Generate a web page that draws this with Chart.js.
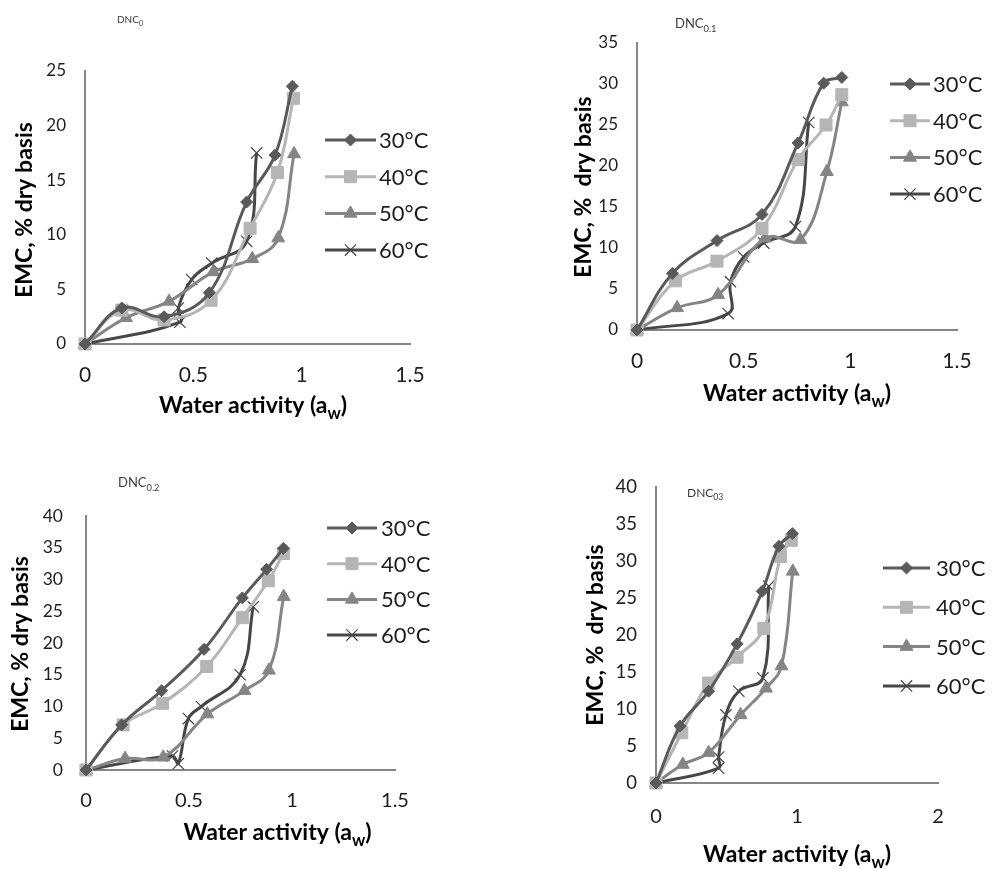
<!DOCTYPE html>
<html>
<head>
<meta charset="utf-8">
<title>EMC sorption isotherms</title>
<script src="https://cdn.jsdelivr.net/npm/chart.js@4.4.1/dist/chart.umd.min.js"></script>
<style>
  html, body { margin: 0; padding: 0; background: #fff; }
  #page { position: relative; width: 993px; height: 869px; overflow: hidden; }
  #page canvas { position: absolute; }
</style>
</head>
<body>
<div id="page">
  <canvas id="c0" width="496" height="430" style="left:0;top:0"></canvas>
  <canvas id="c1" width="497" height="430" style="left:496px;top:0"></canvas>
  <canvas id="c2" width="496" height="439" style="left:0;top:430px"></canvas>
  <canvas id="c3" width="497" height="439" style="left:496px;top:430px"></canvas>
</div>
<script>
// series labels and looks shared by all four plots
const temps = ['30°C', '40°C', '50°C', '60°C'];
const lineColors = ['#5a5a5a', '#b5b5b5', '#858585', '#474747'];
const markerStyles = ['rectRot', 'rect', 'triangle', 'crossRot'];
const markerSizes = [6, 8.5, 7.5, 8];

// [water activity, EMC % db] per temperature
const dnc0_30 = [[0, 0], [0.17, 3.3], [0.365, 2.5], [0.574, 4.7], [0.746, 13.0], [0.877, 17.3], [0.957, 23.6]];
const dnc0_40 = [[0, 0], [0.17, 3.1], [0.365, 2.2], [0.582, 4.0], [0.762, 10.6], [0.888, 15.7], [0.962, 22.5]];
const dnc0_50 = [[0, 0], [0.189, 2.4], [0.388, 3.9], [0.592, 6.6], [0.772, 7.8], [0.892, 9.7], [0.965, 17.4]];
const dnc0_60 = [[0, 0], [0.438, 2.0], [0.431, 3.3], [0.492, 5.9], [0.585, 7.4], [0.746, 9.4], [0.792, 17.5]];

const dnc01_30 = [[0, 0], [0.166, 6.9], [0.375, 10.9], [0.586, 14.1], [0.755, 22.8], [0.875, 30.1], [0.96, 30.8]];
const dnc01_40 = [[0, 0], [0.18, 6.0], [0.375, 8.4], [0.586, 12.4], [0.755, 20.8], [0.886, 25.0], [0.96, 28.7]];
const dnc01_50 = [[0, 0], [0.188, 2.7], [0.38, 4.3], [0.6, 11.2], [0.766, 11.0], [0.89, 19.3], [0.96, 27.8]];
const dnc01_60 = [[0, 0], [0.427, 2.0], [0.438, 5.9], [0.5, 8.9], [0.594, 10.6], [0.742, 12.6], [0.805, 25.3]];

const dnc02_30 = [[0, 0], [0.173, 7.1], [0.367, 12.5], [0.573, 19.0], [0.759, 27.1], [0.877, 31.6], [0.958, 34.9]];
const dnc02_40 = [[0, 0], [0.18, 7.1], [0.372, 10.5], [0.586, 16.3], [0.759, 24.0], [0.885, 29.8], [0.958, 34.1]];
const dnc02_50 = [[0, 0], [0.19, 1.8], [0.375, 2.0], [0.589, 8.8], [0.769, 12.5], [0.888, 15.7], [0.96, 27.3]];
const dnc02_60 = [[0, 0], [0.42, 2.2], [0.448, 1.0], [0.497, 8.1], [0.56, 10.0], [0.748, 15.0], [0.812, 25.7]];

const dnc03_30 = [[0, 0], [0.171, 7.7], [0.373, 12.4], [0.575, 18.8], [0.753, 25.9], [0.872, 32.0], [0.967, 33.7]];
const dnc03_40 = [[0, 0], [0.183, 6.8], [0.373, 13.5], [0.575, 17.0], [0.765, 20.9], [0.884, 30.6], [0.96, 32.8]];
const dnc03_50 = [[0, 0], [0.19, 2.5], [0.373, 4.1], [0.6, 9.2], [0.78, 12.8], [0.89, 15.8], [0.97, 28.6]];
const dnc03_60 = [[0, 0], [0.444, 2.0], [0.444, 3.5], [0.496, 9.2], [0.587, 12.4], [0.758, 14.2], [0.8, 26.6]];

const FONT = 'Lato, "Open Sans", sans-serif';

const panels = [
  {
    id: 'c0', title: ['DNC', '0'], titleAt: [117, 23, 10],
    series: [dnc0_30, dnc0_40, dnc0_50, dnc0_60],
    xMax: 1.5, xStep: 0.5, yMax: 25, yStep: 5,
    area: { l: 85, r: 410, t: 71, b: 344 }, yPad: 19, xPad: 19,
    yFont: 17, xFont: 21,
    yTitle: 'EMC, % dry basis', yTitleAt: [31.5, 210],
    xTitleAt: [253, 413],
    legend: { x1: 325, x2: 376, tx: 379, y0: 140, dy: 36.7 }
  },
  {
    id: 'c1', title: ['DNC', '0.1'], titleAt: [179, 28, 13],
    series: [dnc01_30, dnc01_40, dnc01_50, dnc01_60],
    xMax: 1.5, xStep: 0.5, yMax: 35, yStep: 5,
    area: { l: 141, r: 461, t: 43, b: 330 }, yPad: 19, xPad: 19,
    yFont: 17, xFont: 21,
    yTitle: 'EMC, %  dry basis', yTitleAt: [94.5, 187],
    xTitleAt: [301, 401],
    legend: { x1: 394, x2: 434, tx: 437, y0: 84, dy: 36.7 }
  },
  {
    id: 'c2', title: ['DNC', '0.2'], titleAt: [118, 57, 13],
    series: [dnc02_30, dnc02_40, dnc02_50, dnc02_60],
    xMax: 1.5, xStep: 0.5, yMax: 40, yStep: 5,
    area: { l: 86, r: 395, t: 86, b: 340 }, yPad: 23, xPad: 19,
    yFont: 17.5, xFont: 20,
    yTitle: 'EMC, % dry basis', yTitleAt: [28, 214],
    xTitleAt: [277.5, 410],
    legend: { x1: 327, x2: 377, tx: 381, y0: 98, dy: 35.7 }
  },
  {
    id: 'c3', title: ['DNC', '03'], titleAt: [191, 67, 12],
    series: [dnc03_30, dnc03_40, dnc03_50, dnc03_60],
    xMax: 2, xStep: 1, yMax: 40, yStep: 5,
    area: { l: 160, r: 442, t: 57, b: 353 }, yPad: 19, xPad: 22,
    yFont: 18.5, xFont: 20,
    yTitle: 'EMC, %  dry basis', yTitleAt: [107, 205],
    xTitleAt: [301, 432],
    legend: { x1: 387, x2: 434, tx: 440, y0: 138, dy: 39.3 }
  }
];

// draws a run of text pieces; pieces with sub=true are smaller and lowered
function drawRuns(ctx, runs, x, y, size, bold, align) {
  const weight = bold ? 'bold ' : '';
  let total = 0;
  runs.forEach(r => {
    ctx.font = weight + (r.sub ? size * 0.72 : size) + 'px ' + FONT;
    r.w = ctx.measureText(r.text).width;
    total += r.w;
  });
  let cx = align === 'center' ? x - total / 2 : x;
  ctx.textAlign = 'left';
  ctx.textBaseline = 'alphabetic';
  runs.forEach(r => {
    ctx.font = weight + (r.sub ? size * 0.72 : size) + 'px ' + FONT;
    ctx.fillText(r.text, cx, r.sub ? y + size * 0.28 : y);
    cx += r.w;
  });
}

function decorPlugin(p) {
  return {
    id: 'decor',
    afterDraw(chart) {
      const ctx = chart.ctx;
      ctx.save();

      // plot title with subscript
      ctx.fillStyle = '#3c3c3c';
      drawRuns(ctx, [{ text: p.title[0] }, { text: p.title[1], sub: true }],
        p.titleAt[0], p.titleAt[1], p.titleAt[2], false, 'left');

      // axis titles
      ctx.fillStyle = '#000';
      drawRuns(ctx, [{ text: 'Water activity (a' }, { text: 'w', sub: true }, { text: ')' }],
        p.xTitleAt[0], p.xTitleAt[1], 23, true, 'center');
      ctx.save();
      ctx.translate(p.yTitleAt[0], p.yTitleAt[1]);
      ctx.rotate(-Math.PI / 2);
      drawRuns(ctx, [{ text: p.yTitle }], 0, 0, 23, true, 'center');
      ctx.restore();

      // legend: line sample with marker, then label
      const lg = p.legend;
      chart.data.datasets.forEach((ds, i) => {
        const y = lg.y0 + i * lg.dy;
        ctx.strokeStyle = ds.borderColor;
        ctx.fillStyle = ds.borderColor;
        ctx.lineWidth = 3;
        ctx.beginPath();
        ctx.moveTo(lg.x1, y);
        ctx.lineTo(lg.x2, y);
        ctx.stroke();
        ctx.lineWidth = ds.pointBorderWidth;
        Chart.helpers.drawPoint(ctx, {
          pointStyle: ds.pointStyle, radius: ds.pointRadius,
          rotation: 0, borderWidth: ds.pointBorderWidth
        }, (lg.x1 + lg.x2) / 2, y);
        ctx.fillStyle = '#1e1e1e';
        ctx.font = '22px ' + FONT;
        ctx.textAlign = 'left';
        ctx.textBaseline = 'middle';
        ctx.fillText(ds.label, lg.tx, y + 1);
      });
      ctx.restore();
    }
  };
}

const YW = 50, XH = 40;

panels.forEach(p => {
  const canvas = document.getElementById(p.id);
  const W = canvas.width, H = canvas.height;
  new Chart(canvas, {
    type: 'scatter',
    data: {
      datasets: p.series.map((pts, i) => ({
        label: temps[i],
        data: pts.map(([x, y]) => ({ x, y })),
        showLine: true,
        tension: 0.4,
        borderColor: lineColors[i],
        backgroundColor: lineColors[i],
        borderWidth: 3,
        pointStyle: markerStyles[i],
        pointRadius: markerSizes[i],
        pointBorderWidth: i === 3 ? 1.2 : 1,
        pointBorderColor: lineColors[i],
        pointBackgroundColor: lineColors[i],
        clip: false
      }))
    },
    options: {
      responsive: false,
      animation: false,
      events: [],
      layout: {
        padding: {
          left: p.area.l - YW,
          right: W - p.area.r,
          top: p.area.t,
          bottom: H - p.area.b - XH
        }
      },
      plugins: { legend: { display: false }, tooltip: { enabled: false } },
      scales: {
        x: {
          type: 'linear', min: 0, max: p.xMax,
          ticks: {
            stepSize: p.xStep, padding: p.xPad, color: '#1e1e1e',
            font: { family: FONT, size: p.xFont },
            callback: v => String(+v.toFixed(2))
          },
          grid: { display: false, drawTicks: false },
          border: { display: true, color: '#868686', width: 2 },
          afterFit: s => { s.height = XH; }
        },
        y: {
          type: 'linear', min: 0, max: p.yMax,
          ticks: {
            stepSize: p.yStep, padding: p.yPad, color: '#1e1e1e',
            font: { family: FONT, size: p.yFont },
            callback: v => String(+v.toFixed(2))
          },
          grid: { display: false, drawTicks: false },
          border: { display: true, color: '#868686', width: 2 },
          afterFit: s => { s.width = YW; }
        }
      }
    },
    plugins: [decorPlugin(p)]
  });
});
</script>
</body>
</html>
